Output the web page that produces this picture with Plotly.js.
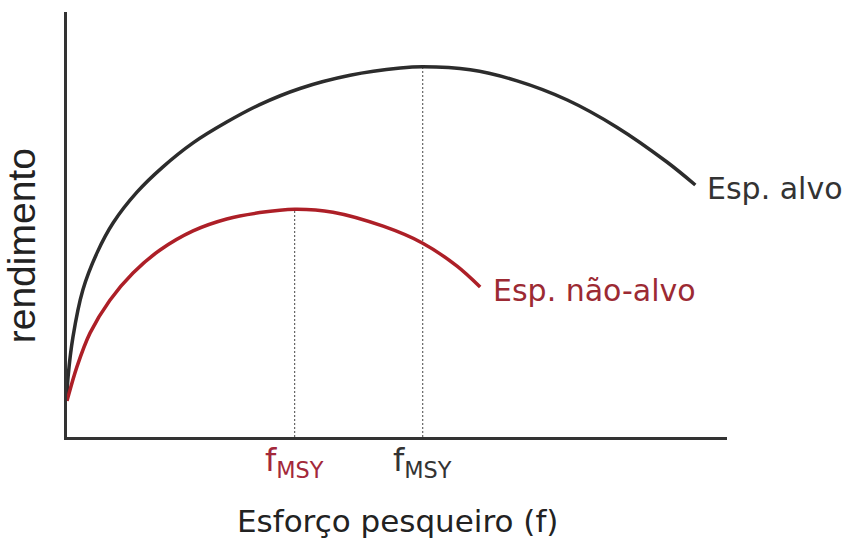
<!DOCTYPE html>
<html>
<head>
<meta charset="utf-8">
<script src="https://cdn.plot.ly/plotly-3.0.1.min.js"></script>
<style>
  html, body { margin: 0; padding: 0; background: #fff; }
  #grafik { width: 845px; height: 554px; }
</style>
</head>
<body>
<div id="grafik"></div>
<script>
// esforço (x) e rendimento (y), unidades arbitrárias
const alvoX = [0, 0.15, 0.9, 2.4, 4.6, 7.0, 10.6, 14.5, 19.1, 24.2, 29.2, 35.3, 42.9, 50.5, 53.9, 61.1, 68.2, 75.8, 83.3, 90.9, 95.2];
const alvoY = [9.9, 13.9, 23.5, 34.6, 43.5, 50.4, 57.6, 63.5, 69.2, 74.1, 78.2, 82.0, 85.1, 86.8, 87.1, 86.4, 83.8, 79.3, 72.9, 64.7, 59.3];

const naoAlvoX = [0, 1.5, 3.5, 6.5, 10.0, 14.1, 19.1, 24.2, 29.2, 34.5, 40.3, 47.9, 53.9, 59.1, 62.6];
const naoAlvoY = [8.5, 16.5, 24.5, 32.2, 38.6, 44.0, 48.5, 51.3, 52.8, 53.6, 52.9, 49.6, 45.6, 40.2, 35.3];

const nomes = ['Esp. alvo', 'Esp. não-alvo'];
const fLabel = 'f<sub>MSY</sub>';
const tituloX = 'Esforço pesqueiro (f)';
const tituloY = 'rendimento';

const preto = '#2c2c2c';
const vermelho = '#ad1f27';

function picoDe(xs, ys) {
  let i = 0;
  ys.forEach((v, j) => { if (v > ys[i]) i = j; });
  return { x: xs[i], y: ys[i] };
}

function gambarGrafik() {
  const picoAlvo = picoDe(alvoX, alvoY);
  const picoNao = picoDe(naoAlvoX, naoAlvoY);

  const tracejado = { color: '#444', width: 1, dash: '2px,2px' };

  const data = [
    { x: [picoAlvo.x, picoAlvo.x], y: [0, picoAlvo.y], mode: 'lines', line: tracejado, hoverinfo: 'skip' },
    { x: [picoNao.x, picoNao.x], y: [0, picoNao.y], mode: 'lines', line: tracejado, hoverinfo: 'skip' },
    { x: alvoX, y: alvoY, mode: 'lines', line: { color: preto, width: 3.5, shape: 'spline', smoothing: 0.9 } },
    { x: naoAlvoX, y: naoAlvoY, mode: 'lines', line: { color: vermelho, width: 3.5, shape: 'spline', smoothing: 0.9 } }
  ];

  const fonte = 'DejaVu Sans, sans-serif';
  const ultA = alvoX.length - 1;
  const ultN = naoAlvoX.length - 1;

  const layout = {
    width: 845,
    height: 554,
    margin: { l: 67, r: 118, t: 12, b: 117 },
    paper_bgcolor: '#fff',
    plot_bgcolor: '#fff',
    showlegend: false,
    xaxis: {
      range: [0, 100],
      showgrid: false, zeroline: false, showticklabels: false, ticks: '',
      showline: true, linecolor: '#333', linewidth: 3
    },
    yaxis: {
      range: [0, 100],
      showgrid: false, zeroline: false, showticklabels: false, ticks: '',
      showline: true, linecolor: '#333', linewidth: 3
    },
    annotations: [
      { xref: 'paper', yref: 'paper', x: 0.5, y: 0, text: tituloX, showarrow: false,
        xanchor: 'center', yanchor: 'top', yshift: -64,
        font: { family: fonte, size: 31, color: '#222' } },
      { xref: 'paper', yref: 'paper', x: 0, y: 0.45, text: tituloY, showarrow: false, textangle: -90,
        xanchor: 'right', yanchor: 'middle', xshift: -22,
        font: { family: 'Liberation Sans, Arial, sans-serif', size: 39, color: '#222' } },
      { x: alvoX[ultA], y: alvoY[ultA], text: nomes[0], showarrow: false, xanchor: 'left', yanchor: 'top',
        xshift: 10, yshift: 16, font: { family: fonte, size: 30, color: '#333' } },
      { x: naoAlvoX[ultN], y: naoAlvoY[ultN], text: nomes[1], showarrow: false, xanchor: 'left', yanchor: 'top',
        xshift: 11, yshift: 16, font: { family: fonte, size: 30, color: '#9c2a33' } },
      { x: picoNao.x, y: 0, text: fLabel, showarrow: false, yanchor: 'top', yshift: -2,
        font: { family: fonte, size: 32, color: '#a3283a' } },
      { x: picoAlvo.x, y: 0, text: fLabel, showarrow: false, yanchor: 'top', yshift: -2,
        font: { family: fonte, size: 32, color: '#333' } }
    ]
  };

  Plotly.newPlot('grafik', data, layout, { staticPlot: true });
}

gambarGrafik();
</script>
</body>
</html>
